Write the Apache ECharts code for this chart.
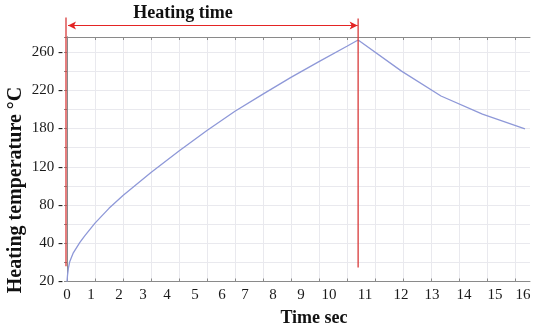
<!DOCTYPE html>
<html>
<head>
<meta charset="utf-8">
<script src="https://cdn.jsdelivr.net/npm/echarts@6/dist/echarts.min.js"></script>
<style>
html,body{margin:0;padding:0;background:#fff;}
#c{width:550px;height:332px;}
</style>
</head>
<body>
<div id="c"></div>
<script>
// ---- data ----
const heatTime = [0, 0.02, 0.05, 0.1, 0.225, 0.46, 0.64, 0.82, 1, 1.5, 2, 3, 4, 5, 6, 7, 8, 9, 10, 10.4];
const heatTemp = [20, 27, 34, 41, 50, 61, 68, 74.5, 81, 96.5, 110, 134, 156.5, 178, 198, 216, 233.5, 250, 266, 272.6];
const coolTime = [10.4, 11.95, 13.36, 14.84, 16.36];
const coolTemp = [272.6, 240, 214, 195, 179.6];
const xTickValues = [0,1,2,3,4,5,6,7,8,9,10,11,12,13,14,15,16];
const xTickLabels = ['0','1','2','3','4','5','6','7','8','9','10','11','12','13','14','15','16'];
const yTickValues = [20, 60, 100, 140, 180, 220, 260];
const yTickLabels = ['20', '40', '80', '120', '180', '220', '260'];
const heatingEnd = 10.4;
const titleText = 'Heating time';
const xName = 'Time sec';
const yName = 'Heating temperature °C';

// ---- layout / style ----
const xLabelShift = [0,-4,-4,-8,-12,-12,-13,-18,-18,-18,-18,-10,-2,1,5,8,8];
const FONT = 'Liberation Serif, Times New Roman, serif';
const AXIS = '#8a8a8a';
const GRIDC = '#e9e9ee';
const rich = {};
xLabelShift.forEach((d, i) => {
  rich['o' + i] = {
    fontFamily: FONT, fontSize: 15, color: '#1a1a1a',
    padding: d >= 0 ? [0, 0, 0, 2 * d] : [0, -2 * d, 0, 0]
  };
});

const chart = echarts.init(document.getElementById('c'), null, {renderer: 'canvas'});
const xCommon = {type: 'value', min: 0, max: 16.54, interval: 1};
const yCommon = {type: 'value', min: 20, max: 275.7, interval: 20};
const line = (a, b) => a.map((v, i) => [v, b[i]]);

chart.setOption({
  animation: false,
  grid: {left: 67, right: 20, top: 37, bottom: 50.5, containLabel: false},
  xAxis: [
    Object.assign({}, xCommon, {
      position: 'bottom',
      axisLine: {show: true, lineStyle: {color: AXIS, width: 1}},
      axisTick: {show: true, inside: true, length: 3, customValues: xTickValues, lineStyle: {color: AXIS}},
      splitLine: {show: true, lineStyle: {color: GRIDC, width: 1}},
      axisLabel: {
        show: true, margin: 6, customValues: xTickValues,
        formatter: v => { const i = xTickValues.indexOf(v); return i < 0 ? '' : '{o' + i + '|' + xTickLabels[i] + '}'; },
        rich: rich
      }
    }),
    Object.assign({}, xCommon, {
      position: 'top',
      axisLine: {show: true, lineStyle: {color: AXIS, width: 1}},
      axisTick: {show: true, inside: true, length: 3, customValues: xTickValues, lineStyle: {color: AXIS}},
      splitLine: {show: false},
      axisLabel: {show: false}
    })
  ],
  yAxis: [
    Object.assign({}, yCommon, {
      position: 'left',
      axisLine: {show: true, lineStyle: {color: AXIS, width: 1}},
      axisTick: {show: false},
      splitLine: {show: true, lineStyle: {color: GRIDC, width: 1}},
      axisLabel: {
        show: true, margin: 4, customValues: yTickValues,
        fontFamily: FONT, fontSize: 15, color: '#1a1a1a',
        formatter: v => { const i = yTickValues.indexOf(v); return i < 0 ? '' : yTickLabels[i] + ' -'; }
      }
    }),
    Object.assign({}, yCommon, {
      position: 'right',
      axisLine: {show: true, lineStyle: {color: AXIS, width: 1}},
      axisTick: {show: true, inside: true, length: 3, lineStyle: {color: AXIS}},
      splitLine: {show: false},
      axisLabel: {show: false}
    })
  ],
  series: [
    {type: 'line', xAxisIndex: 0, yAxisIndex: 0, data: line(heatTime, heatTemp),
     showSymbol: false, symbol: 'none', smooth: false, clip: false,
     lineStyle: {color: '#8e98d8', width: 1.3}},
    {type: 'line', xAxisIndex: 0, yAxisIndex: 0, data: line(coolTime, coolTemp),
     showSymbol: false, symbol: 'none', smooth: false, clip: false,
     lineStyle: {color: '#8e98d8', width: 1.3}}
  ]
});

// annotations positioned through the chart's own scales
const P = (x, y) => chart.convertToPixel({xAxisIndex: 0, yAxisIndex: 0}, [x, y]);
const lTop = P(0, 296), lBot = P(0, 36);
const rTop = P(heatingEnd, 295), rBot = P(heatingEnd, 34.6);
const aL = P(0, 288), aR = P(heatingEnd, 288);
const RED = '#d83a3a';
const ARROW = '#e42424';
const ax = aL[0] + 1, bx = aR[0] - 0.5, ay = Math.round(aL[1]) + 0.5;
chart.setOption({
  graphic: [
    {type: 'line', shape: {x1: lTop[0] - 1, y1: lTop[1], x2: lBot[0] - 1, y2: lBot[1]}, style: {stroke: RED, lineWidth: 1.3}, z: 100},
    {type: 'line', shape: {x1: rTop[0], y1: rTop[1], x2: rBot[0], y2: rBot[1]}, style: {stroke: RED, lineWidth: 1.3}, z: 100},
    {type: 'line', shape: {x1: ax, y1: ay, x2: bx, y2: ay}, style: {stroke: ARROW, lineWidth: 1.2}, z: 100},
    {type: 'polygon', shape: {points: [[ax, ay], [ax + 8, ay - 4], [ax + 6, ay], [ax + 8, ay + 4]]}, style: {fill: ARROW}, z: 100},
    {type: 'polygon', shape: {points: [[bx, ay], [bx - 8, ay - 4], [bx - 6, ay], [bx - 8, ay + 4]]}, style: {fill: ARROW}, z: 100},
    {type: 'text', x: 183, y: 13, style: {text: titleText, font: 'bold 18px ' + FONT, fill: '#111', align: 'center', verticalAlign: 'middle'}, z: 100},
    {type: 'text', x: 314, y: 318, style: {text: xName, font: 'bold 18px ' + FONT, fill: '#111', align: 'center', verticalAlign: 'middle'}, z: 100},
    {type: 'text', x: 16, y: 190, rotation: Math.PI / 2, style: {text: yName, font: 'bold 20px ' + FONT, fill: '#111', align: 'center', verticalAlign: 'middle'}, z: 100}
  ]
});
</script>
</body>
</html>
